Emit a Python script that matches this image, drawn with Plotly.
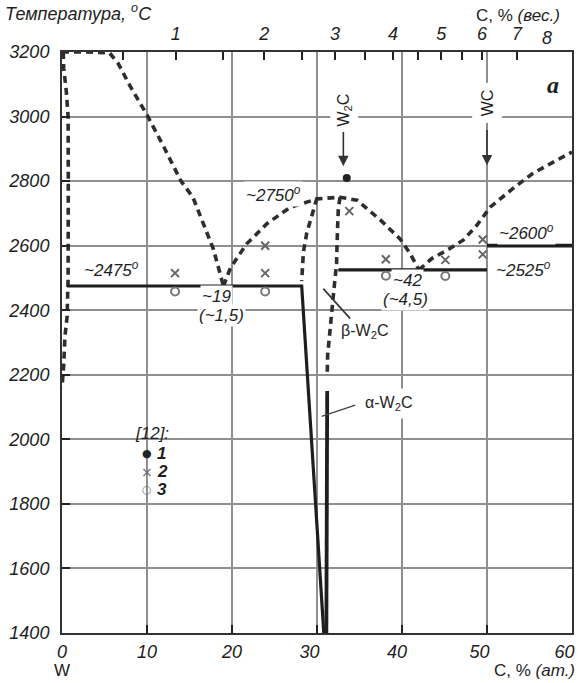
import plotly.graph_objects as go

# ---- W–C phase diagram data (x: C, at.%; y: temperature, °C) ----
# liquidus from the W side down to the W/W2C eutectic (~19 at.%)
liq_w_x = [0.0, 3.0, 5.6, 6.6, 8.0, 10.0, 12.0, 14.0, 15.4, 16.5, 17.8, 19.0]
liq_w_t = [3200, 3200, 3197, 3165, 3095, 3005, 2905, 2800, 2750, 2675, 2590, 2475]

# W2C liquidus dome between the two eutectics
dome_x = [19.0, 19.8, 21.7, 24.1, 26.8, 29.0, 30.0, 32.7, 34.7, 37.6, 39.8, 40.9, 42.0]
dome_t = [2475, 2530, 2605, 2668, 2718, 2738, 2745, 2750, 2741, 2676, 2620, 2578, 2525]

# liquidus from the W2C/WC eutectic (~42 at.%) towards higher carbon
liq_c_x = [42.0, 43.5, 45.3, 47.2, 48.8, 50.4, 53.1, 55.4, 57.8, 60.0]
liq_c_t = [2525, 2560, 2586, 2617, 2663, 2720, 2778, 2824, 2859, 2890]

# solubility limit of C in W
sol_w_x = [0.15, 0.2, 0.5, 0.72, 0.74, 0.72, 0.6, 0.35, 0.2, 0.0]
sol_w_t = [3200, 3150, 3080, 3000, 2800, 2500, 2380, 2320, 2230, 2160]

# beta-W2C homogeneity range
beta_l_x = [30.0, 29.5, 28.8, 28.4, 28.2]
beta_l_t = [2748, 2705, 2640, 2580, 2490]
beta_r_x = [32.7, 32.5, 32.4, 32.3, 31.9, 31.5, 31.25, 31.2]
beta_r_t = [2750, 2710, 2640, 2545, 2440, 2340, 2260, 2200]

# solid boundaries
eut1_x = [0.6, 28.2, 30.8]
eut1_t = [2475, 2475, 1400]
alpha_x = [31.2, 31.1]
alpha_t = [2150, 1400]
eut2_x = [32.5, 50.0]
eut2_t = [2525, 2525]
wc_x = [50.0, 60.0]
wc_t = [2600, 2600]

# experimental points, ref. [12]
pts1_x = [33.5]
pts1_t = [2810]
pts2_x = [13.3, 23.9, 23.9, 33.8, 38.1, 45.1, 49.5, 49.5]
pts2_t = [2515, 2600, 2515, 2707, 2558, 2556, 2619, 2573]
pts3_x = [13.3, 23.9, 38.1, 45.1]
pts3_t = [2458, 2458, 2507, 2506]

# axis ticks
y_ticks = list(range(1400, 3201, 200))
x_ticks = [0, 10, 20, 30, 40, 50, 60]
x_tick_pad = [0, 0, 0, 3, 2, 3, 3]          # trailing spaces nudging labels left
wt_ticks = [0.5, 1, 1.5, 2, 2.5, 3, 3.5, 4, 4.5, 5, 5.5, 6, 7]
wt_labels = ["", "1", "", "2", "", "3", "", "4", "", "5", "", "6", "7"]


def wt_to_at(w):
    """Convert C content from wt.% to at.% in the W–C system."""
    c = w / 12.011
    wm = (100 - w) / 183.84
    return 100 * c / (c + wm)


def it(v, pad=0):
    return (f"<i>{v}</i>" + "&nbsp;" * pad) if v != "" else ""


SANS = "Liberation Sans, Arial, sans-serif"
SERIF = "Liberation Serif, Times New Roman, serif"
INK = "#1e1e1e"
DASH_C = "#2e2e2e"
DASH = "7px,5px"

# plot-area geometry in page pixels
L, R, T, B = 62, 572, 51.7, 632.7


def px(x):
    return (x - L) / (R - L)


def py(y):
    return (B - y) / (B - T)


fig = go.Figure()


def dashed(x, y):
    fig.add_trace(go.Scatter(x=x, y=y, mode="lines", showlegend=False, hoverinfo="skip",
                             line=dict(color=DASH_C, width=3.6, dash=DASH)))


def solid(x, y, w=3.2):
    fig.add_trace(go.Scatter(x=x, y=y, mode="lines", showlegend=False, hoverinfo="skip",
                             line=dict(color=INK, width=w)))


for xs, ts in [(liq_w_x, liq_w_t), (dome_x, dome_t), (liq_c_x, liq_c_t),
               (sol_w_x, sol_w_t), (beta_l_x, beta_l_t), (beta_r_x, beta_r_t)]:
    dashed(xs, ts)

solid(eut1_x, eut1_t)
solid(alpha_x, alpha_t, 3.8)
solid(eut2_x, eut2_t)
solid(wc_x, wc_t, 3.8)

fig.add_trace(go.Scatter(x=pts1_x, y=pts1_t, mode="markers", showlegend=False,
                         marker=dict(symbol="circle", size=8, color="#222")))
fig.add_trace(go.Scatter(x=pts2_x, y=pts2_t, mode="markers", showlegend=False,
                         marker=dict(symbol="x-thin", size=8, color="#666",
                                     line=dict(width=2, color="#666"))))
fig.add_trace(go.Scatter(x=pts3_x, y=pts3_t, mode="markers", showlegend=False,
                         marker=dict(symbol="circle-open", size=8, color="#777",
                                     line=dict(width=2, color="#777"))))

# carrier trace for the wt.% scale on top
fig.add_trace(go.Scatter(x=[0], y=[1400], xaxis="x2", mode="markers", showlegend=False,
                         hoverinfo="skip", marker=dict(opacity=0)))

tick_font = dict(family=SANS, size=18, color=INK)
axis_common = dict(showline=True, linecolor="#333", linewidth=2, ticks="inside",
                   ticklen=8, tickwidth=2, tickcolor="#222", tickfont=tick_font,
                   zeroline=False, automargin=False, ticklabeloverflow="allow")

fig.update_layout(
    width=580, height=683,
    margin=dict(l=62, r=8, t=52, b=50, autoexpand=False),
    paper_bgcolor="white", plot_bgcolor="white",
    showlegend=False,
    xaxis=dict(range=[0, 60], tickvals=x_ticks,
               ticktext=[it(v, p) for v, p in zip(x_ticks, x_tick_pad)],
               showgrid=True, gridcolor="#8f8f8f", gridwidth=1.6, mirror=True,
               ticklabelstandoff=1, **axis_common),
    xaxis2=dict(range=[0, 60], overlaying="x", side="top", anchor="y", showgrid=False,
                tickvals=[wt_to_at(w) for w in wt_ticks],
                ticktext=[it(v) for v in wt_labels], ticklabelstandoff=3, **axis_common),
    yaxis=dict(range=[1400, 3200], tickvals=y_ticks, ticktext=[it(v) for v in y_ticks],
               showgrid=True, gridcolor="#8f8f8f", gridwidth=1.6, mirror=True,
               ticklabelstandoff=7, **axis_common),
)

# white field behind the key, interrupting the grid
for x0, x1, y0, y1 in [(110, 208, 417, 505), (208, 240, 441, 505)]:
    fig.add_shape(type="rect", xref="paper", yref="paper", x0=px(x0), x1=px(x1),
                  y0=py(y1), y1=py(y0), fillcolor="white", line_width=0, layer="between")

lab = dict(family=SANS, size=17, color=INK, style="italic")
up = dict(family=SANS, size=16, color=INK)


def note(x, y, text, font=lab, bg="white", pad=1, **kw):
    fig.add_annotation(x=x, y=y, text=text, showarrow=False, font=font, bgcolor=bg,
                       borderpad=pad, **kw)


note(5.8, 2528, "<i>~2475<sup>o</sup></i>")
note(18.2, 2441, "<i>~19</i>")
note(18.8, 2384, "<i>(~1,5)</i>")
note(24.9, 2761, "<i>~2750<sup>o</sup></i>")
note(54.7, 2642, "<i>~2600<sup>o</sup></i>")
note(54.3, 2529, "<i>~2525<sup>o</sup></i>")
note(40.6, 2493, "<i>~42</i>")
note(40.4, 2433, "<i>(~4,5)</i>")
note(35.6, 2333, "β-W<sub>2</sub>C", font=up)
note(38.4, 2111, "α-W<sub>2</sub>C", font=up, pad=5)
note(33.2, 3019, "W<sub>2</sub>C", font=up, textangle=-90, pad=4)
note(50.0, 3041, "WC", font=up, textangle=-90, pad=6)
note(57.8, 3097, "<b><i>a</i></b>", font=dict(family=SERIF, size=24, color=INK), bg=None)

# key for the experimental points of ref. [12]
key = [("<i>[12]:</i>", 151.7, 433.3, "center", 17, INK, SANS),
       ("●", 146.7, 453.3, "center", 11, "#222", "DejaVu Sans"),
       ("×", 146.5, 471.5, "center", 14, "#666", "DejaVu Sans"),
       ("○", 146.7, 489, "center", 11, "#777", "DejaVu Sans"),
       ("<b><i>1</i></b>", 154.5, 453.3, "left", 17, INK, SANS),
       ("<b><i>2</i></b>", 154.5, 471.5, "left", 17, INK, SANS),
       ("<b><i>3</i></b>", 154.5, 489, "left", 17, INK, SANS)]
for text, kx, ky, anc, size, col, fam in key:
    fig.add_annotation(xref="paper", yref="paper", x=px(kx), y=py(ky), text=text,
                       xanchor=anc, yanchor="middle", showarrow=False,
                       font=dict(family=fam, size=size, color=col))

# phase pointer arrows and leader lines
for ax_, tip, tail in [(33.1, 2846, 2957), (50.0, 2849, 2963)]:
    fig.add_annotation(x=ax_, y=tip, ax=ax_, ay=tail, axref="x", ayref="y", text="",
                       showarrow=True, arrowhead=2, arrowsize=1.3, arrowwidth=1.6,
                       arrowcolor="#333")
fig.add_shape(type="line", x0=30.74, y0=2467, x1=33.9, y1=2374,
              line=dict(color="#333", width=1.6))
fig.add_shape(type="line", x0=30.55, y0=2071, x1=34.5, y1=2106,
              line=dict(color="#444", width=1.4))

# axis captions
fig.add_annotation(xref="paper", yref="paper", x=px(3), y=py(12),
                   xanchor="left", yanchor="middle", showarrow=False,
                   text="<i>Температура, <sup>o</sup>C</i>",
                   font=dict(family=SANS, size=18, color=INK))
fig.add_annotation(xref="paper", yref="paper", x=px(562), y=py(15),
                   xanchor="right", yanchor="middle", showarrow=False,
                   text="C, % <i>(вес.)</i>", font=dict(family=SANS, size=17, color=INK))
fig.add_annotation(x=wt_to_at(8), xref="x", yref="paper", y=py(38),
                   yanchor="middle", showarrow=False, text="<i>8</i>", font=tick_font)
fig.add_annotation(xref="paper", yref="paper", x=0, y=py(670),
                   xanchor="center", yanchor="middle", showarrow=False, text="W",
                   font=dict(family=SANS, size=17, color=INK))
fig.add_annotation(xref="paper", yref="paper", x=px(577), y=py(670),
                   xanchor="right", yanchor="middle", showarrow=False,
                   text="C, % <i>(ат.)</i>", font=dict(family=SANS, size=17, color=INK))

fig.write_html("out.html")
